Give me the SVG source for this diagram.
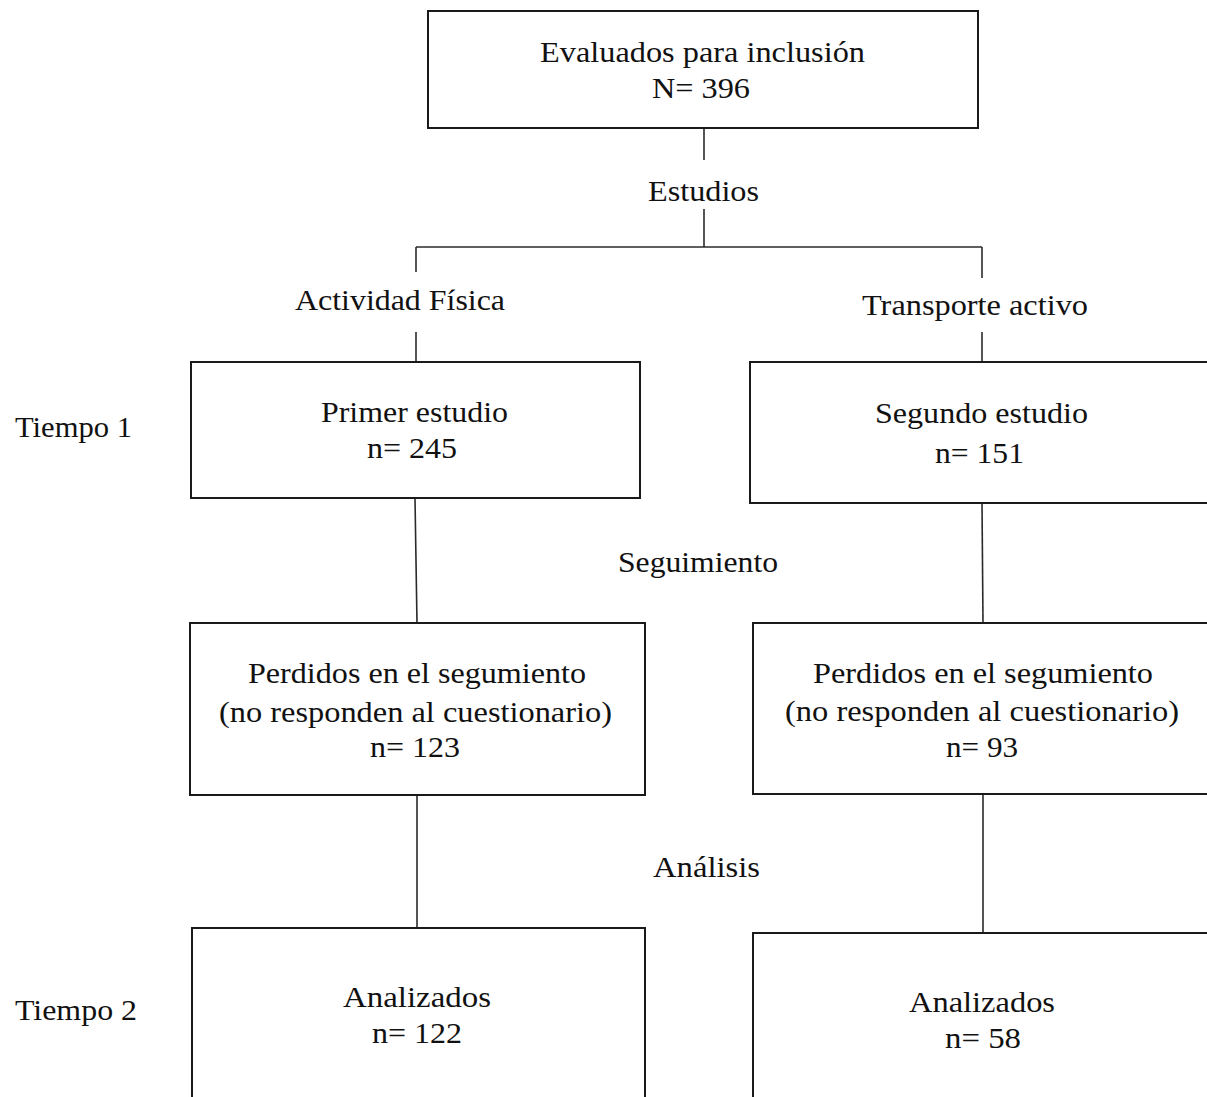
<svg xmlns="http://www.w3.org/2000/svg" width="1207" height="1097" viewBox="0 0 1207 1097">
<style>
.box{fill:#fff;stroke:#1a1a1a;stroke-width:2}
.ln{fill:none;stroke:#2a2a2a;stroke-width:1.6}
text{font-family:"Liberation Serif","Times New Roman",serif;font-size:30px;fill:#111}
.c{text-anchor:middle}
</style>
<rect width="1207" height="1097" fill="#fff"/>
<g id="connectors">
<line class="ln" x1="704" y1="128" x2="704" y2="160"/>
<line class="ln" x1="704" y1="209" x2="704" y2="247"/>
<line class="ln" x1="416" y1="247" x2="982" y2="247"/>
<line class="ln" x1="416" y1="247" x2="416" y2="272"/>
<line class="ln" x1="982" y1="247" x2="982" y2="278"/>
<line class="ln" x1="416" y1="332" x2="416" y2="362"/>
<line class="ln" x1="982" y1="332" x2="982" y2="362"/>
<line class="ln" x1="415" y1="498" x2="417" y2="623"/>
<line class="ln" x1="982" y1="503" x2="983" y2="623"/>
<line class="ln" x1="417" y1="795" x2="417" y2="928"/>
<line class="ln" x1="983" y1="794" x2="983" y2="933"/>
</g>
<g id="labels">
<text class="c" x="703.5" y="201" textLength="111" lengthAdjust="spacingAndGlyphs">Estudios</text>
<text class="c" x="400" y="310" textLength="210" lengthAdjust="spacingAndGlyphs">Actividad Física</text>
<text class="c" x="975" y="315" textLength="226" lengthAdjust="spacingAndGlyphs">Transporte activo</text>
<text x="15" y="437" textLength="117" lengthAdjust="spacingAndGlyphs">Tiempo 1</text>
<text class="c" x="698" y="572" textLength="160" lengthAdjust="spacingAndGlyphs">Seguimiento</text>
<text class="c" x="706.5" y="877" textLength="107" lengthAdjust="spacingAndGlyphs">Análisis</text>
<text x="15" y="1020" textLength="122" lengthAdjust="spacingAndGlyphs">Tiempo 2</text>
</g>
<g id="node-evaluados">
<rect class="box" x="428" y="11" width="550" height="117"/>
<text class="c" x="702.5" y="62" textLength="325" lengthAdjust="spacingAndGlyphs">Evaluados para inclusión</text>
<text class="c" x="701" y="98" textLength="98" lengthAdjust="spacingAndGlyphs">N= 396</text>
</g>
<g id="node-primer">
<rect class="box" x="191" y="362" width="449" height="136"/>
<text class="c" x="414.5" y="422" textLength="187" lengthAdjust="spacingAndGlyphs">Primer estudio</text>
<text class="c" x="412" y="458" textLength="90" lengthAdjust="spacingAndGlyphs">n= 245</text>
</g>
<g id="node-segundo">
<rect class="box" x="750" y="362" width="480" height="141"/>
<text class="c" x="981.5" y="423" textLength="213" lengthAdjust="spacingAndGlyphs">Segundo estudio</text>
<text class="c" x="979.5" y="463" textLength="89" lengthAdjust="spacingAndGlyphs">n= 151</text>
</g>
<g id="node-perdidos-1">
<rect class="box" x="190" y="623" width="455" height="172"/>
<text class="c" x="417" y="683" textLength="338" lengthAdjust="spacingAndGlyphs">Perdidos en el segumiento</text>
<text class="c" x="415.5" y="722" textLength="393" lengthAdjust="spacingAndGlyphs">(no responden al cuestionario)</text>
<text class="c" x="415" y="757" textLength="90" lengthAdjust="spacingAndGlyphs">n= 123</text>
</g>
<g id="node-perdidos-2">
<rect class="box" x="753" y="623" width="480" height="171"/>
<text class="c" x="983" y="683" textLength="340" lengthAdjust="spacingAndGlyphs">Perdidos en el segumiento</text>
<text class="c" x="982" y="721" textLength="394" lengthAdjust="spacingAndGlyphs">(no responden al cuestionario)</text>
<text class="c" x="982" y="757" textLength="72" lengthAdjust="spacingAndGlyphs">n= 93</text>
</g>
<g id="node-analizados-1">
<rect class="box" x="192" y="928" width="453" height="190"/>
<text class="c" x="417" y="1007" textLength="148" lengthAdjust="spacingAndGlyphs">Analizados</text>
<text class="c" x="417" y="1043" textLength="90" lengthAdjust="spacingAndGlyphs">n= 122</text>
</g>
<g id="node-analizados-2">
<rect class="box" x="753" y="933" width="480" height="190"/>
<text class="c" x="982" y="1012" textLength="146" lengthAdjust="spacingAndGlyphs">Analizados</text>
<text class="c" x="983" y="1048" textLength="76" lengthAdjust="spacingAndGlyphs">n= 58</text>
</g>
</svg>
